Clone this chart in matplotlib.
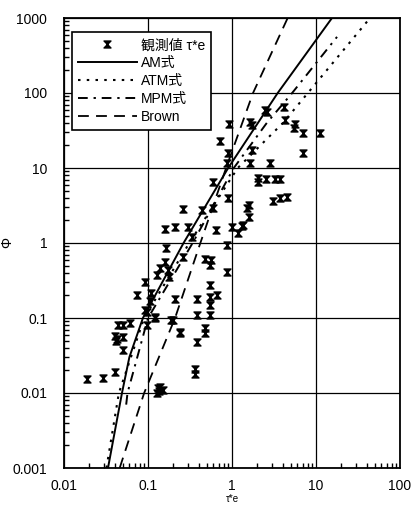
import matplotlib
matplotlib.use("Agg")
import matplotlib.pyplot as plt
from matplotlib.path import Path
import numpy as np

plt.rcParams['font.family'] = ['Liberation Sans', 'Noto Sans CJK JP', 'DejaVu Sans']

# observed values (tau*e, Phi)
obs_x = [0.0186, 0.029, 0.040, 0.044, 0.051, 0.061, 0.041, 0.043, 0.042, 0.051, 0.051,
         0.092, 0.096, 0.121, 0.20, 0.24, 0.13, 0.14, 0.15, 0.127, 0.135,
         0.90, 0.865, 0.60, 0.90, 0.263, 0.436, 0.60, 1.50, 0.159, 0.21, 0.30, 0.33,
         0.645, 0.99, 1.19, 1.34, 0.865, 0.166, 0.263, 0.159, 0.139, 0.174, 0.18, 0.127,
         0.48, 0.57, 0.55, 0.865, 0.092, 0.073, 0.11, 0.106, 0.21, 0.38, 0.54, 0.54,
         0.55, 0.66, 0.096, 0.121, 0.38, 0.54, 0.19, 0.24, 0.48, 0.48, 0.38, 0.36, 0.36,
         0.93, 0.72, 1.64, 1.71, 2.59, 4.2, 4.26, 5.6, 5.4, 7.06, 11.2, 1.71, 1.64, 2.83,
         7.06, 2.06, 2.06, 2.54, 3.25, 3.73, 4.48, 3.73, 3.10, 1.61, 1.61, 2.47, 1.31]
obs_y = [0.0152, 0.0157, 0.0192, 0.0807, 0.0807, 0.0865, 0.057, 0.053, 0.050, 0.056, 0.037,
         0.128, 0.0807, 0.104, 0.094, 0.066, 0.0115, 0.012, 0.011, 0.010, 0.0105,
         15.7, 11.6, 6.6, 3.94, 2.81, 2.75, 2.9, 2.9, 1.52, 1.65, 1.65, 1.19,
         1.49, 1.65, 1.35, 1.74, 0.94, 0.85, 0.66, 0.56, 0.46, 0.44, 0.355, 0.374,
         0.62, 0.59, 0.51, 0.41, 0.305, 0.20, 0.218, 0.166, 0.177, 0.177, 0.19, 0.149,
         0.275, 0.20, 0.121, 0.10, 0.11, 0.11, 0.094, 0.064, 0.073, 0.0625, 0.048, 0.021, 0.018,
         38.6, 23.1, 41.4, 37.4, 56.0, 65.6, 43.6, 38.6, 33.8, 29.6, 29.6, 17.4, 11.5, 11.8,
         15.7, 7.3, 6.6, 7.06, 7.06, 7.06, 4.14, 3.94, 3.67, 3.2, 2.24, 59.0, 1.69]

# model curves
am_x = [0.0334, 0.049, 0.060, 0.087, 0.265, 0.90, 3.5, 15.5]
am_y = [0.001, 0.01, 0.03, 0.1, 1, 10, 100, 1000]

atm_x = [0.032, 0.045, 0.090, 0.31, 1.17, 4.05, 8.0, 44.0]
atm_y = [0.001, 0.01, 0.1, 1, 10, 40, 100, 1000]

mpm_x = [0.055, 0.057, 0.100, 0.34, 1.05, 2.6, 5.2, 17.8]
mpm_y = [0.007, 0.01, 0.1, 1, 10, 40, 100, 560]

brown_x = [0.046, 0.090, 0.21, 0.42, 0.85, 1.78, 4.6]
brown_y = [0.001, 0.01, 0.1, 1, 10, 100, 1000]

x_ticks = [0.01, 0.1, 1, 10, 100]
x_ticklabels = ['0.01', '0.1', '1', '10', '100']
y_ticks = [0.001, 0.01, 0.1, 1, 10, 100, 1000]
y_ticklabels = ['0.001', '0.01', '0.1', '1', '10', '100', '1000']

hourglass = Path([(-1, 1), (1, 1), (-1, -1), (1, -1), (-1, 1)],
                 [Path.MOVETO, Path.LINETO, Path.LINETO, Path.LINETO, Path.CLOSEPOLY])

fig = plt.figure(figsize=(4.12, 5.08), dpi=100)
ax = fig.add_axes([64/412, 40/508, 336/412, 450/508])
ax.set_xscale('log')
ax.set_yscale('log')
ax.set_xlim(0.01, 100)
ax.set_ylim(0.001, 1000)

ax.grid(True, which='major', color='black', linewidth=0.9)
ax.set_axisbelow(True)

ax.plot(obs_x, obs_y, linestyle='none', marker=hourglass, markersize=5,
        color='black', label='観測値 τ*e')
ax.plot(am_x, am_y, '-', color='black', linewidth=1.4, label='AM式')
ax.plot(atm_x, atm_y, linestyle=(0, (1.2, 3.0)), color='black', linewidth=1.5, label='ATM式')
ax.plot(mpm_x, mpm_y, linestyle=(0, (5, 3, 1.2, 3)), color='black', linewidth=1.4, label='MPM式')
ax.plot(brown_x, brown_y, linestyle=(0, (6, 4)), color='black', linewidth=1.3, label='Brown')

ax.set_xticks(x_ticks)
ax.set_xticklabels(x_ticklabels)
ax.set_yticks(y_ticks)
ax.set_yticklabels(y_ticklabels)
ax.tick_params(which='both', direction='in', top=False, right=False, labelsize=10)
ax.tick_params(which='major', length=0, pad=8)
ax.tick_params(which='minor', length=3.5, width=1)
ax.tick_params(axis='y', which='major', pad=12)
for s in ax.spines.values():
    s.set_linewidth(1.3)

ax.set_ylabel('Φ', fontsize=10)
ax.yaxis.set_label_coords(-0.147, 0.5)
ax.set_xlabel('τ*e', fontsize=7, labelpad=1)

leg = ax.legend(loc='upper left', bbox_to_anchor=(0.024, 0.969), borderaxespad=0,
                fontsize=10, handlelength=4.2, handletextpad=0.3, labelspacing=0.28,
                borderpad=0.45, fancybox=False, framealpha=1, edgecolor='black')
leg.get_frame().set_linewidth(1.2)

fig.savefig('out.png', dpi=100)
